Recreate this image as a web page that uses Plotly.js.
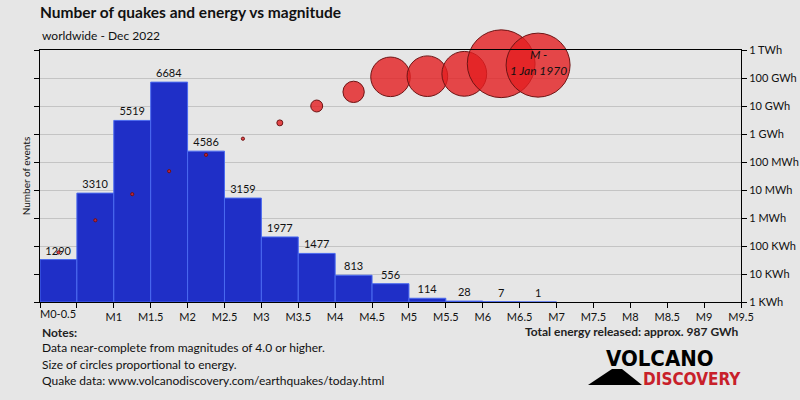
<!DOCTYPE html>
<html>
<head>
<meta charset="utf-8">
<script src="https://cdn.plot.ly/plotly-3.0.1.min.js"></script>
<style>html,body{margin:0;padding:0;background:#e6e6e6;}#chart{width:800px;height:400px;}</style>
</head>
<body>
<div id="chart"></div>
<script>
// Magnitude bins (lower edge, upper edge)
const binStart = [0, 0.5, 1, 1.5, 2, 2.5, 3, 3.5, 4, 4.5, 5, 5.5, 6, 6.5];
const counts = [1290, 3310, 5519, 6684, 4586, 3159, 1977, 1477, 813, 556, 114, 28, 7, 1];
// Energy released per bin, in KWh
const energyKWh = [59, 830, 7100, 47000, 180000, 680000, 2.5e6, 1.0e7, 3.2e7, 1.1e8, 1.16e8, 1.41e8, 3.23e8, 2.88e8];
const xTickVals = [0, 0.5, 1, 1.5, 2, 2.5, 3, 3.5, 4, 4.5, 5, 5.5, 6, 6.5, 7, 7.5, 8, 8.5, 9, 9.5];
const xTickText = ['', '', 'M1', 'M1.5', 'M2', 'M2.5', 'M3', 'M3.5', 'M4', 'M4.5', 'M5', 'M5.5', 'M6', 'M6.5', 'M7', 'M7.5', 'M8', 'M8.5', 'M9', 'M9.5'];
const firstBinLabel = 'M0-0.5';
const eTickVals = [1, 10, 100, 1e3, 1e4, 1e5, 1e6, 1e7, 1e8, 1e9];
const eTickText = ['1 KWh', '10 KWh', '100 KWh', '1 MWh', '10 MWh', '100 MWh', '1 GWh', '10 GWh', '100 GWh', '1 TWh'];
const largestLabel = 'M -<br>1 Jan 1970';
const largestBin = 13;

const binWidth = 0.5;
const centers = binStart.map(b => b + binWidth / 2);
const FONT = 'Lato, "Open Sans", sans-serif';
const LOGOFONT = '"DejaVu Sans Condensed", "DejaVu Sans", sans-serif';

const bars = {
  type: 'bar',
  x: centers,
  y: counts,
  width: binWidth,
  marker: {color: '#1f2fc7', line: {color: '#4a6af0', width: 1}},
  text: counts.map(String),
  textposition: 'outside',
  textfont: {family: FONT, size: 11, color: '#111'},
  cliponaxis: false,
  hoverinfo: 'skip',
  xaxis: 'x', yaxis: 'y'
};

const bubbles = {
  type: 'scatter',
  mode: 'markers',
  x: centers,
  y: energyKWh,
  marker: {
    size: energyKWh,
    sizemode: 'area',
    sizeref: 140625,
    sizemin: 1.6,
    opacity: 1,
    color: 'rgba(228,30,32,0.8)',
    line: {color: '#6e1414', width: 1}
  },
  cliponaxis: false,
  hoverinfo: 'skip',
  xaxis: 'x', yaxis: 'y2'
};

const layout = {
  width: 800, height: 400,
  paper_bgcolor: '#e6e6e6',
  plot_bgcolor: '#e6e6e6',
  showlegend: false,
  margin: {l: 40, r: 59, t: 50, b: 98},
  title: {
    text: '<b>Number of quakes and energy vs magnitude</b>',
    font: {family: FONT, size: 15.5, color: '#111'},
    x: 40 / 800, xanchor: 'left', xref: 'container',
    y: 1 - 13 / 400, yanchor: 'middle', yref: 'container'
  },
  xaxis: {
    range: [0, 9.5],
    tickvals: xTickVals,
    ticktext: xTickText,
    ticks: 'outside', ticklen: 5, tickcolor: '#000',
    showline: true, linecolor: '#000', linewidth: 1, mirror: true,
    showgrid: false, zeroline: false,
    tickfont: {family: FONT, size: 11, color: '#111'}
  },
  yaxis: {
    range: [0, 7660],
    showticklabels: false, showgrid: false, zeroline: false,
    showline: true, linecolor: '#000', linewidth: 1, ticks: '',
    title: {text: 'Number of events', font: {family: FONT, size: 10, color: '#111'}, standoff: 6}
  },
  yaxis2: {
    type: 'log', range: [0, 9],
    overlaying: 'y', side: 'right',
    tickvals: eTickVals, ticktext: eTickText,
    ticks: 'outside', ticklen: 5, tickcolor: '#000',
    showline: true, linecolor: '#000', mirror: 'ticks',
    showgrid: true, gridcolor: '#c4c4c4', gridwidth: 1,
    zeroline: false,
    tickfont: {family: FONT, size: 11, color: '#111'}
  },
  annotations: [
    {text: 'worldwide - Dec 2022', xref: 'paper', yref: 'paper', x: 0, y: 1 + (50 - 36) / 252, xanchor: 'left', yanchor: 'middle', showarrow: false, font: {family: FONT, size: 12, color: '#111'}},
    {text: firstBinLabel, xref: 'x', yref: 'paper', x: centers[0], y: -11 / 252, yanchor: 'middle', showarrow: false, font: {family: FONT, size: 11, color: '#111'}},
    {text: '<i>' + largestLabel + '</i>', xref: 'x', yref: 'y2', x: centers[largestBin], y: Math.log10(energyKWh[largestBin]) + 0.1, showarrow: false, font: {family: FONT, size: 12, color: '#111'}},
    {text: '<b>Notes:</b>', xref: 'paper', yref: 'paper', x: 0, y: -(332 - 302) / 252, xanchor: 'left', yanchor: 'middle', showarrow: false, font: {family: FONT, size: 12, color: '#222'}},
    {text: 'Data near-complete from magnitudes of 4.0 or higher.', xref: 'paper', yref: 'paper', x: 0, y: -(347 - 302) / 252, xanchor: 'left', yanchor: 'middle', showarrow: false, font: {family: FONT, size: 12, color: '#111'}},
    {text: 'Size of circles proportional to energy.', xref: 'paper', yref: 'paper', x: 0, y: -(364 - 302) / 252, xanchor: 'left', yanchor: 'middle', showarrow: false, font: {family: FONT, size: 12, color: '#111'}},
    {text: 'Quake data: www.volcanodiscovery.com/earthquakes/today.html', xref: 'paper', yref: 'paper', x: 0, y: -(380 - 302) / 252, xanchor: 'left', yanchor: 'middle', showarrow: false, font: {family: FONT, size: 12, color: '#111'}},
    {text: '<b>Total energy released: approx. 987 GWh</b>', xref: 'paper', yref: 'paper', x: 1, y: -(331 - 302) / 252, xanchor: 'right', yanchor: 'middle', showarrow: false, font: {family: FONT, size: 12, color: '#222'}},
    {text: '<b>VOLCANO</b>', xref: 'paper', yref: 'paper', x: (604 - 40) / 701, y: -(358 - 302) / 252, xanchor: 'left', yanchor: 'middle', showarrow: false, font: {family: LOGOFONT, size: 22, color: '#000'}},
    {text: '<b>DISCOVERY</b>', xref: 'paper', yref: 'paper', x: (641 - 40) / 701, y: -(379 - 302) / 252, xanchor: 'left', yanchor: 'middle', showarrow: false, font: {family: LOGOFONT, size: 17, color: '#c8202a'}}
  ],
  shapes: [
    {type: 'path', xref: 'paper', yref: 'paper',
     path: 'M ' + ((588 - 40) / 701) + ' ' + (-(385 - 302) / 252) + ' L ' + ((612 - 40) / 701) + ' ' + (-(369 - 302) / 252) + ' L ' + ((622 - 40) / 701) + ' ' + (-(369 - 302) / 252) + ' L ' + ((642 - 40) / 701) + ' ' + (-(385 - 302) / 252) + ' Z',
     fillcolor: '#000', line: {width: 0}}
  ]
};

Plotly.newPlot('chart', [bars, bubbles], layout, {staticPlot: true, displayModeBar: false});
</script>
</body>
</html>
